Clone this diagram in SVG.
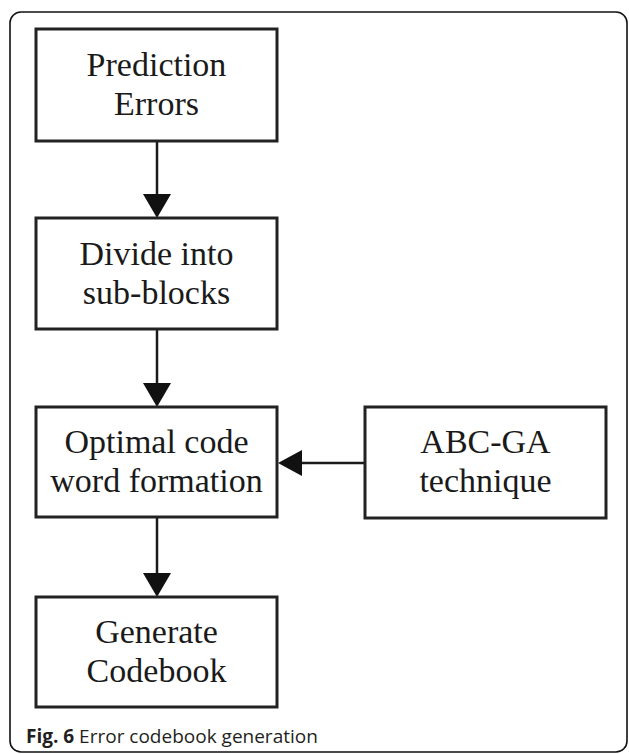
<svg xmlns="http://www.w3.org/2000/svg" width="629" height="754" viewBox="0 0 629 754">
  <style>
    .box { fill: #ffffff; stroke: #222222; stroke-width: 3; }
    .lbl { font-family: "Liberation Serif", "Times New Roman", serif; font-size: 34px; fill: #1a1a1a; text-anchor: middle; }
    .conn { stroke: #1a1a1a; stroke-width: 2.5; fill: none; }
    .head { fill: #111111; stroke: none; }
    .cap { font-family: "Open Sans", "Noto Sans", sans-serif; font-size: 19px; fill: #231f20; }
  </style>
  <rect x="0" y="0" width="629" height="754" fill="#ffffff"/>
  <rect id="frame" x="10" y="12" width="617" height="740" rx="11" ry="11" fill="none" stroke="#111111" stroke-width="1.6"/>

  <g id="connectors">
    <line class="conn" x1="157" y1="141" x2="157" y2="196"/>
    <polygon class="head" points="143,194 171,194 157,218"/>
    <line class="conn" x1="157" y1="329" x2="157" y2="385"/>
    <polygon class="head" points="143,383 171,383 157,407"/>
    <line class="conn" x1="157" y1="517" x2="157" y2="575"/>
    <polygon class="head" points="143,573 171,573 157,597"/>
    <line class="conn" x1="365" y1="463" x2="300" y2="463"/>
    <polygon class="head" points="302,450 302,476 278,463"/>
  </g>

  <g id="node-prediction">
    <rect class="box" x="36" y="29" width="241" height="112"/>
    <text class="lbl" x="156.5" y="76">Prediction</text>
    <text class="lbl" x="156.5" y="115">Errors</text>
  </g>
  <g id="node-divide">
    <rect class="box" x="36" y="218" width="241" height="111"/>
    <text class="lbl" x="156.5" y="265">Divide into</text>
    <text class="lbl" x="156.5" y="304">sub-blocks</text>
  </g>
  <g id="node-optimal">
    <rect class="box" x="36" y="407" width="241" height="110"/>
    <text class="lbl" x="156.5" y="453">Optimal code</text>
    <text class="lbl" x="156.5" y="492">word formation</text>
  </g>
  <g id="node-abcga">
    <rect class="box" x="365" y="407" width="241" height="111"/>
    <text class="lbl" x="485.5" y="453">ABC-GA</text>
    <text class="lbl" x="485.5" y="492">technique</text>
  </g>
  <g id="node-generate">
    <rect class="box" x="36" y="597" width="241" height="110"/>
    <text class="lbl" x="156.5" y="643">Generate</text>
    <text class="lbl" x="156.5" y="682">Codebook</text>
  </g>

  <text class="cap" x="26" y="743"><tspan font-weight="bold">Fig. 6</tspan> Error codebook generation</text>
</svg>
